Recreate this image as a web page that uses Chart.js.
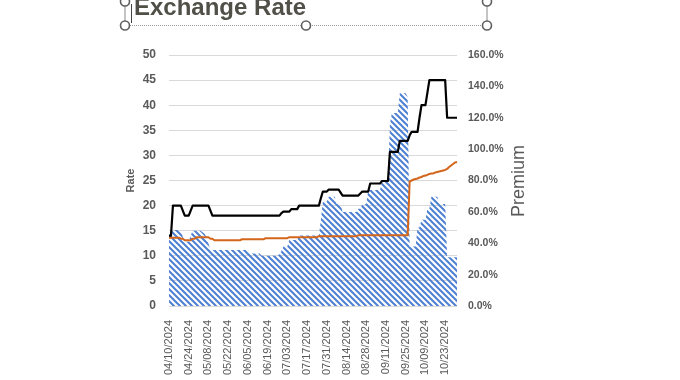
<!DOCTYPE html>
<html><head><meta charset="utf-8">
<script src="https://cdn.jsdelivr.net/npm/chart.js@4.4.1/dist/chart.umd.min.js"></script>
<style>
html,body{margin:0;padding:0;background:#fff;overflow:hidden}
#wrap{position:relative;width:680px;height:380px;overflow:hidden}
#c{position:absolute;left:0;top:0}
svg{position:absolute;left:0;top:0}
#title{position:absolute;left:134px;top:-5px;font:bold 24px "Liberation Sans",Arial,sans-serif;line-height:24px;color:#505048;white-space:nowrap}
#premium{position:absolute;left:518px;top:181px;transform:translate(-50%,-50%) rotate(-90deg);font:18px "Liberation Sans",Arial,sans-serif;color:#595959;white-space:nowrap;line-height:20px}
</style></head><body>
<div id="wrap">
<canvas id="c" width="680" height="380"></canvas>
<svg width="680" height="380">
  <line x1="125" y1="6" x2="125" y2="21" stroke="#8a8a8a" stroke-width="1"/>
  <line x1="487" y1="6" x2="487" y2="21" stroke="#8a8a8a" stroke-width="1"/>
  <line x1="130" y1="25.5" x2="482" y2="25.5" stroke="#9a9a9a" stroke-width="1" stroke-dasharray="1,1"/>
  <line x1="131.5" y1="4" x2="131.5" y2="23" stroke="#444" stroke-width="1"/>
  <circle cx="125" cy="25.5" r="4.5" fill="#fff" stroke="#5f5f5f" stroke-width="1.6"/>
  <circle cx="306" cy="25.5" r="4.5" fill="#fff" stroke="#5f5f5f" stroke-width="1.6"/>
  <circle cx="487" cy="25.5" r="4.5" fill="#fff" stroke="#5f5f5f" stroke-width="1.6"/>
  <circle cx="125" cy="1.5" r="4.5" fill="#fff" stroke="#5f5f5f" stroke-width="1.6"/>
  <circle cx="487" cy="1.5" r="4.5" fill="#fff" stroke="#5f5f5f" stroke-width="1.6"/>
</svg>
<div id="title">Exchange Rate</div>
<div id="premium">Premium</div>
</div>
<script>
const dates = [
"04/10/2024","04/11/2024","04/12/2024","04/15/2024","04/16/2024","04/17/2024","04/18/2024","04/19/2024","04/22/2024","04/23/2024","04/24/2024","04/25/2024","04/26/2024","04/29/2024","04/30/2024",
"05/01/2024","05/02/2024","05/03/2024","05/06/2024","05/07/2024","05/08/2024","05/09/2024","05/10/2024","05/13/2024","05/14/2024","05/15/2024","05/16/2024","05/17/2024","05/20/2024","05/21/2024","05/22/2024","05/23/2024","05/24/2024","05/27/2024","05/28/2024","05/29/2024","05/30/2024","05/31/2024",
"06/03/2024","06/04/2024","06/05/2024","06/06/2024","06/07/2024","06/10/2024","06/11/2024","06/12/2024","06/13/2024","06/14/2024","06/17/2024","06/18/2024","06/19/2024","06/20/2024","06/21/2024","06/24/2024","06/25/2024","06/26/2024","06/27/2024","06/28/2024",
"07/01/2024","07/02/2024","07/03/2024","07/04/2024","07/05/2024","07/08/2024","07/09/2024","07/10/2024","07/11/2024","07/12/2024","07/15/2024","07/16/2024","07/17/2024","07/18/2024","07/19/2024","07/22/2024","07/23/2024","07/24/2024","07/25/2024","07/26/2024","07/29/2024","07/30/2024","07/31/2024",
"08/01/2024","08/02/2024","08/05/2024","08/06/2024","08/07/2024","08/08/2024","08/09/2024","08/12/2024","08/13/2024","08/14/2024","08/15/2024","08/16/2024","08/19/2024","08/20/2024","08/21/2024","08/22/2024","08/23/2024","08/26/2024","08/27/2024","08/28/2024","08/29/2024","08/30/2024",
"09/02/2024","09/03/2024","09/04/2024","09/05/2024","09/06/2024","09/09/2024","09/10/2024","09/11/2024","09/12/2024","09/13/2024","09/16/2024","09/17/2024","09/18/2024","09/19/2024","09/20/2024","09/23/2024","09/24/2024","09/25/2024","09/26/2024","09/27/2024","09/30/2024",
"10/01/2024","10/02/2024","10/03/2024","10/04/2024","10/07/2024","10/08/2024","10/09/2024","10/10/2024","10/11/2024","10/14/2024","10/15/2024","10/16/2024","10/17/2024","10/18/2024","10/21/2024","10/22/2024","10/23/2024","10/24/2024","10/25/2024","10/28/2024","10/29/2024","10/30/2024","10/31/2024"
];

// Market rate (black line, left axis)
const marketRate = [
14,14,20,20,20,20,20,19,18,18,
18,19,20,20,20,20,20,20,20,20,
20,19,18,18,18,18,18,18,18,18,
18,18,18,18,18,18,18,18,18,18,
18,18,18,18,18,18,18,18,18,18,
18,18,18,18,18,18,18,18.5,18.8,18.8,
18.8,18.8,19.3,19.3,19.3,19.3,20,20,20,20,
20,20,20,20,20,20,20,21.5,22.8,22.8,
22.8,23.2,23.2,23.2,23.2,23.2,23.2,22.6,22,22,
22,22,22,22,22,22,22,22.4,22.8,22.8,
22.8,22.8,24.4,24.4,24.4,24.4,24.4,24.4,24.9,24.9,
24.9,24.9,30.7,30.7,30.7,30.7,30.7,32.9,32.9,32.9,
32.9,32.9,34,34.7,34.7,34.7,34.7,37.5,40,40,
40,42.5,45,45,45,45,45,45,45,45,
45,37.5,37.5,37.5,37.5,37.5,37.5
];

// Official rate (orange line, left axis)
const officialRate = [
13.6,13.6,13.6,13.6,13.6,13.6,13.4,13.4,13.1,13.1,
13.1,13.1,13.4,13.4,13.7,13.7,13.7,13.7,13.7,13.7,
13.7,13.4,13.4,13.1,13.1,13.1,13.1,13.1,13.1,13.1,
13.1,13.1,13.1,13.1,13.1,13.1,13.1,13.3,13.3,13.3,
13.3,13.3,13.3,13.3,13.3,13.3,13.3,13.3,13.3,13.5,
13.5,13.5,13.5,13.5,13.5,13.5,13.5,13.5,13.5,13.5,
13.5,13.7,13.7,13.7,13.7,13.7,13.7,13.7,13.7,13.7,
13.7,13.7,13.7,13.7,13.7,13.7,13.9,13.9,13.9,13.9,
13.9,13.9,13.9,13.9,13.9,13.9,13.9,13.9,13.9,13.9,
13.9,13.9,13.9,13.9,13.9,13.9,14.1,14.1,14.1,14.1,
14.1,14.1,14.1,14.1,14.1,14.1,14.1,14.1,14.1,14.1,
14.1,14.1,14.1,14.1,14.1,14.1,14.1,14.1,14.1,14.1,
14.1,14.1,24.8,25.0,25.2,25.3,25.4,25.6,25.7,25.9,
26.0,26.1,26.3,26.4,26.4,26.6,26.7,26.8,26.9,27.0,
27.1,27.3,27.7,28.0,28.3,28.6,28.7
];

// Premium in percent (hatched area, right axis)
const premiumPct = [
44,47,48.5,48.5,48.5,48.5,48.5,44,41,41,
41,45,48,48,48,48,48,47,46,44,
40,35.7,35.7,35.7,35.7,35.7,35.7,35.7,35.7,35.7,
35.7,35.7,35.7,35.7,35.7,35.7,35.7,35.7,35.7,35.7,
35.7,33.5,33.5,33.5,33.5,33.5,33.5,32,32,32,
32,32,32,32,32,32,33,35,38,38,
38,42,42,42,42,42,45,45,45,45,
45,45,45,45,45,45,45,55,66.5,66.5,
66.5,69.7,69.7,69.7,69.7,65,65,65,60,60,
60,60,60,60,60,60,62,62,65,65,
65,74,74,74,74,74,74,74,80,80,
80,80,116,123,123,123,123,135.6,135.6,135.6,
135.6,133,38,38,38,38,50,50,55,55,
55,62,62,69.7,69.7,69.7,69.7,65,65,65,
65,31,31,31,31,31,31
];

const rateTicks = {min: 0, max: 50, step: 5};
const premiumTicks = {min: 0, max: 160, step: 20};
const labelEvery = 10;

function makeHatch() {
  const s = 6;
  const c = document.createElement('canvas');
  c.width = s; c.height = s;
  const g = c.getContext('2d');
  g.strokeStyle = '#4E80D2';
  g.lineWidth = 2.0;
  g.lineCap = 'square';
  for (const k of [-s, 0, s]) {
    g.beginPath();
    g.moveTo(-1, k - 1);
    g.lineTo(s + 1, k + s + 1);
    g.stroke();
  }
  return g.createPattern(c, 'repeat');
}

const FONT = '"Liberation Sans", Arial, sans-serif';
const GREY = '#595959';

new Chart(document.getElementById('c'), {
  type: 'line',
  data: {
    labels: dates,
    datasets: [
      {label: 'Rate', data: marketRate, yAxisID: 'y', borderColor: '#000000', borderWidth: 2.2,
       pointRadius: 0, tension: 0, borderJoinStyle: 'round', fill: false},
      {label: 'Official', data: officialRate, yAxisID: 'y', borderColor: '#D4661C', borderWidth: 2,
       pointRadius: 0, tension: 0, borderJoinStyle: 'round', fill: false},
      {label: 'Premium', data: premiumPct, yAxisID: 'y1', borderWidth: 0, borderColor: 'rgba(0,0,0,0)',
       backgroundColor: makeHatch(), fill: 'origin', pointRadius: 0, tension: 0}
    ]
  },
  options: {
    responsive: false,
    animation: false,
    devicePixelRatio: 1,
    layout: {padding: {left: 0, right: 0, top: 55, bottom: 0}},
    plugins: {legend: {display: false}, tooltip: {enabled: false}, title: {display: false}},
    scales: {
      x: {
        grid: {display: false},
        border: {display: false},
        ticks: {
          autoSkip: false, minRotation: 90, maxRotation: 90, padding: 6,
          color: GREY, font: {family: FONT, size: 11},
          callback: function (v, i) { return i % labelEvery === 0 ? this.getLabelForValue(v) : ''; }
        },
        afterFit: s => { s.height = 74; }
      },
      y: {
        position: 'left',
        min: rateTicks.min, max: rateTicks.max,
        ticks: {stepSize: rateTicks.step, padding: 13, color: GREY, font: {family: FONT, size: 12, weight: 'bold'}},
        grid: {color: '#d9d9d9', drawTicks: false, lineWidth: 1},
        border: {display: false},
        title: {display: true, text: 'Rate', color: GREY, font: {family: FONT, size: 11, weight: 'bold'},
                padding: {top: 124.4, bottom: 0}},
        afterFit: s => { s.width = 169; }
      },
      y1: {
        position: 'right',
        min: premiumTicks.min, max: premiumTicks.max,
        ticks: {stepSize: premiumTicks.step, padding: 11, color: GREY,
                font: {family: FONT, size: 10.5, weight: 'bold'},
                callback: v => v.toFixed(1) + '%'},
        grid: {display: false, drawTicks: false},
        border: {display: false},
        afterFit: s => { s.width = 223; }
      }
    }
  }
});
</script>
</body></html>
